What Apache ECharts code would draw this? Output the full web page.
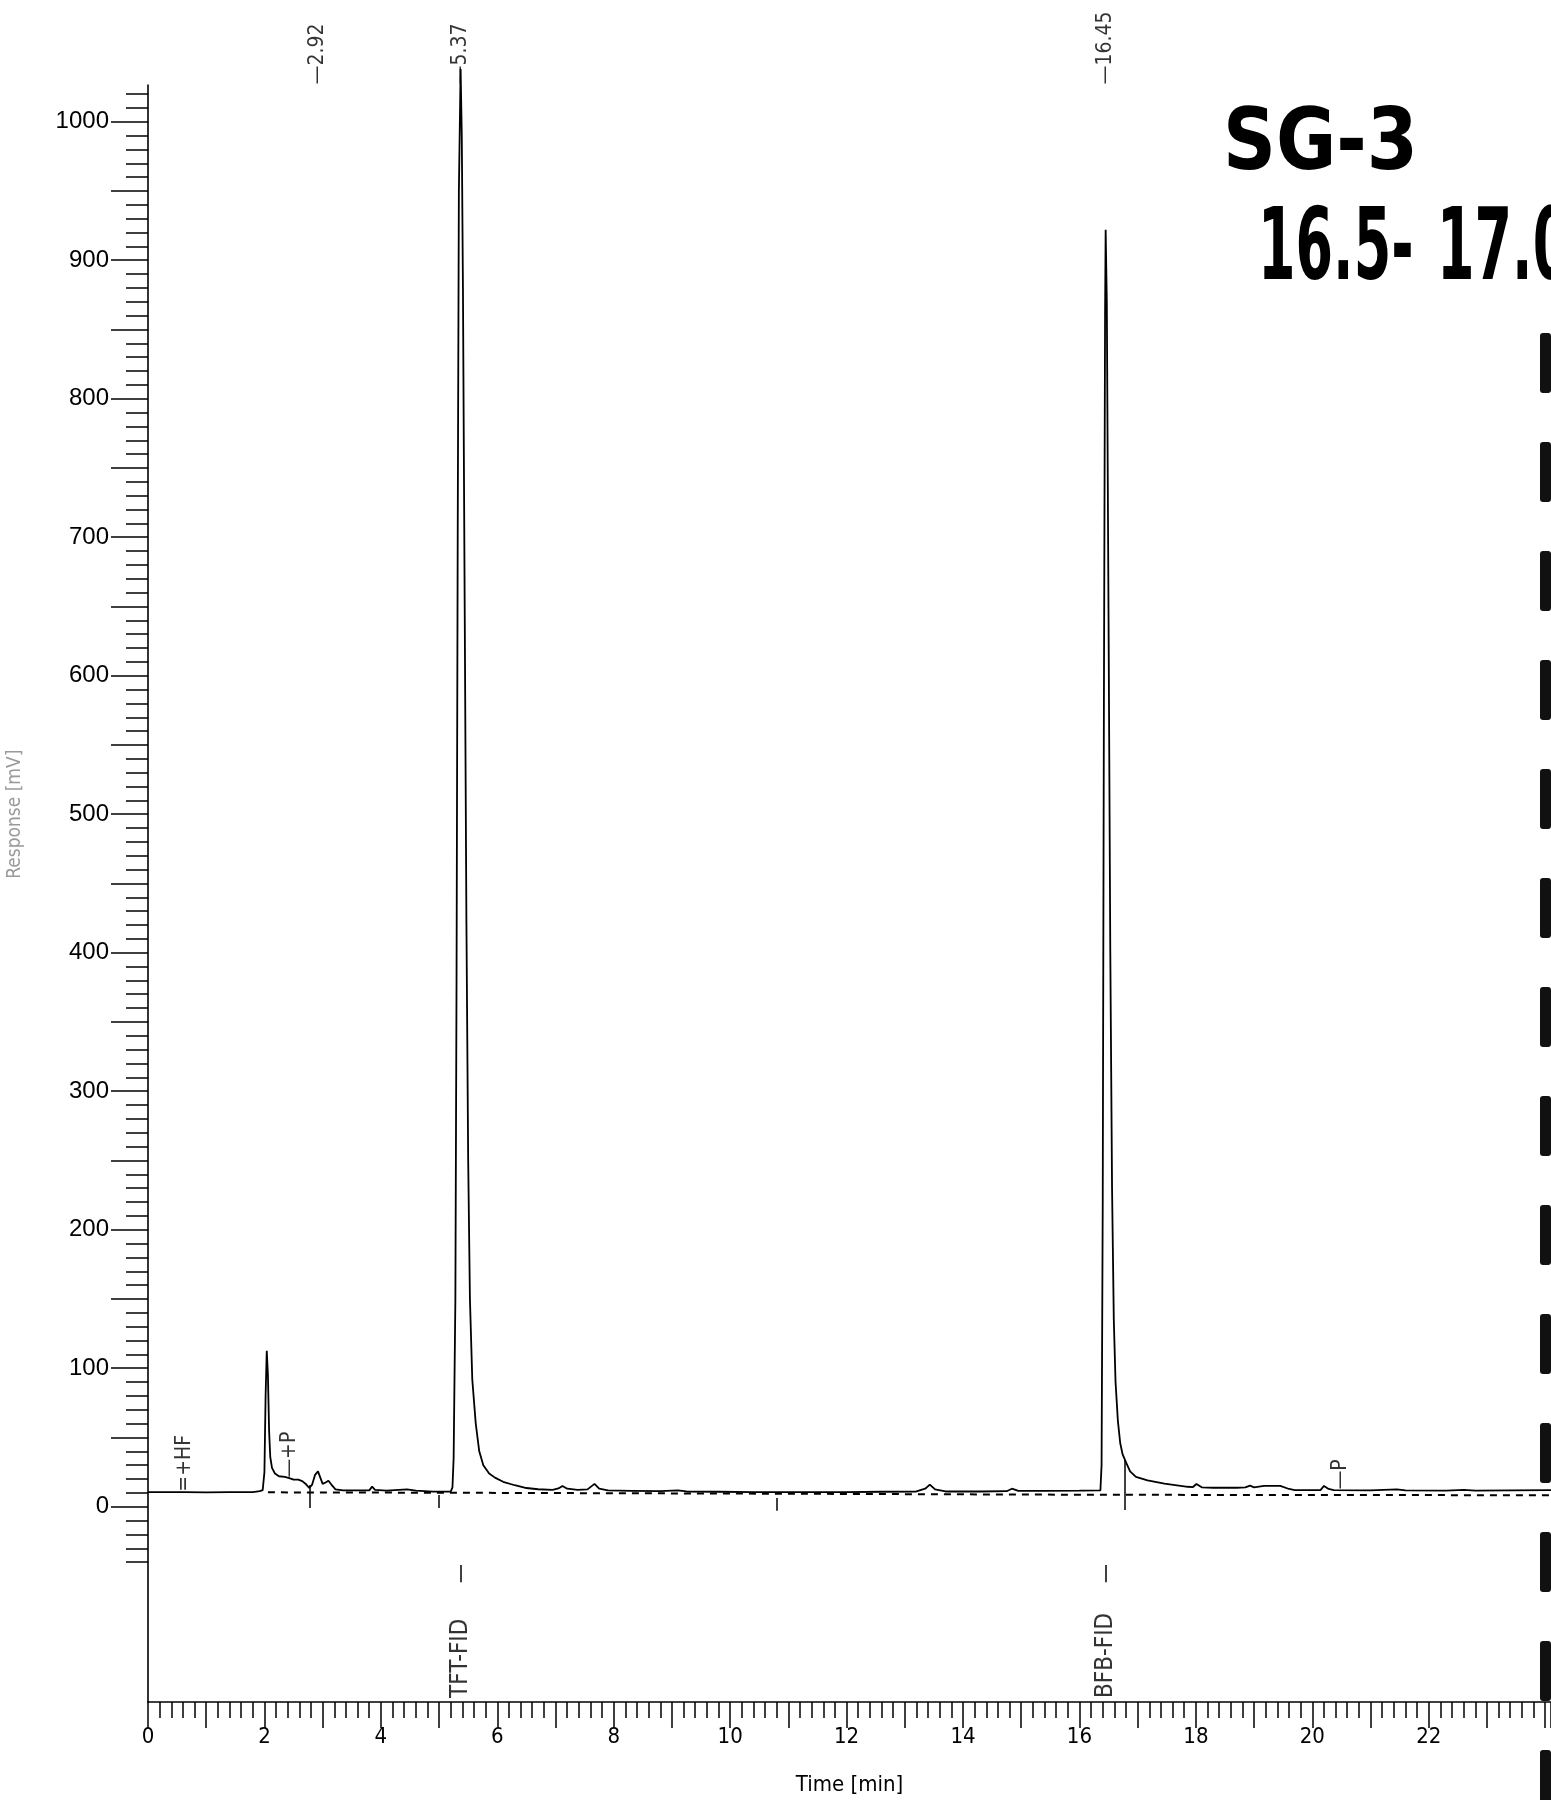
<!DOCTYPE html>
<html>
<head>
<meta charset="utf-8">
<title>SG-3 chromatogram</title>
<script src="https://cdn.jsdelivr.net/npm/echarts/dist/echarts.min.js"></script>
<style>
  html, body { margin: 0; padding: 0; background: #fff; }
  #chart { width: 1551px; height: 1800px; }
</style>
</head>
<body>
<div id="chart"></div>
<script>
// ---- detector trace (time in min, response in mV) ----
const signalTime = [
  0.00, 0.30, 0.62, 1.00, 1.40, 1.80, 1.92, 1.97, 2.00, 2.02, 2.04, 2.06, 2.08, 2.10, 2.13, 2.18,
  2.25, 2.35, 2.44, 2.50, 2.58, 2.65, 2.72, 2.77, 2.82, 2.87, 2.92, 2.96, 3.00, 3.05, 3.10, 3.15,
  3.22, 3.35, 3.60, 3.80, 3.85, 3.90, 4.10, 4.45, 4.60, 4.90, 5.20,
  5.23, 5.25, 5.28, 5.30, 5.32, 5.34, 5.37, 5.39, 5.41, 5.44, 5.47, 5.50, 5.53, 5.57, 5.63, 5.69,
  5.76, 5.86, 5.96, 6.10, 6.30, 6.50, 6.70, 6.95, 7.05, 7.12, 7.20, 7.38, 7.55, 7.67, 7.75, 7.90,
  8.30, 8.80, 9.10, 9.25, 9.80, 10.40, 10.80, 11.40, 12.00, 12.60, 13.20, 13.35, 13.43, 13.52, 13.70,
  14.30, 14.75, 14.84, 14.95, 15.40, 16.00, 16.36,
  16.38, 16.40, 16.42, 16.44, 16.45, 16.47, 16.50, 16.53, 16.56, 16.59, 16.62, 16.66, 16.70, 16.74, 16.80,
  16.87, 16.97, 17.17, 17.46, 17.86, 17.95, 18.01, 18.10, 18.30, 18.70, 18.85, 18.93, 19.00, 19.17,
  19.45, 19.60, 19.70, 20.14, 20.20, 20.28, 20.37, 21.00, 21.45, 21.60, 22.30, 22.60, 22.80, 23.40, 24.10
];
const signalResponse = [
  10.5, 10.6, 10.5, 10.4, 10.5, 10.6, 11.2, 12.0, 25, 80, 112.6, 95, 55, 36, 28, 24,
  22, 21.5, 20.5, 19.5, 19.6, 18.5, 16, 13.5, 16, 23, 25.5, 21, 16.5, 17.5, 18.8, 16,
  12.5, 11.8, 11.8, 11.8, 14.5, 12.2, 11.6, 12.5, 11.6, 10.9, 10.9,
  14, 35, 150, 380, 700, 950, 1038, 990, 880, 650, 420, 250, 150, 92, 60, 40,
  30, 24, 21, 18, 15.5, 13.5, 12.6, 12.2, 13.2, 15, 13, 12.1, 12.5, 16.5, 13, 11.8,
  11.5, 11.2, 11.8, 11.0, 10.8, 10.6, 10.5, 10.6, 10.5, 10.8, 11.0, 13, 16, 12.5, 11.0,
  11.0, 11.2, 13, 11.4, 11.5, 11.6, 11.8,
  30, 220, 580, 860, 922, 870, 640, 400, 230, 135, 90, 62, 46, 38, 32,
  25.5, 21.5, 19, 16.7, 14.4, 14.2, 16.4, 14.0, 13.7, 13.7, 13.9, 15.2, 14.0, 15,
  15, 12.8, 12, 12, 15, 12.8, 12, 11.8, 12.5, 11.8, 11.6, 12.2, 11.6, 11.8, 12.0
];

// ---- integration baseline ----
const baselineTime = [2.06, 2.77, 5.00, 10.80, 16.35, 24.10];
const baselineResponse = [10.4, 10.3, 10.1, 9.4, 8.6, 8.3];

// ---- peak retention times (labelled along the top) ----
const retentionTimes = [2.92, 5.37, 16.45];

// ---- identified compounds ----
const compoundTimes = [5.37, 16.45];
const compoundNames = ['TFT-FID', 'BFB-FID'];

// ---- integration event codes ----
const eventTimes = [0.62, 2.44, 20.48];
const eventResponse = [10.5, 20.5, 12.0];
const eventCodes = ['=+HF', '\u2014+P', '\u2014P'];

// ---- peak start / end markers (time, upper and lower response) ----
const markerTimes = [2.77, 5.00, 10.80, 16.77];
const markerTop = [15.6, 8.4, 6.3, 33.7];
const markerBottom = [-1.0, -1.0, -3.0, -2.4];

// ---- compound tick band (response range) ----
const compoundTickTop = -42;
const compoundTickBottom = -54.5;

// ---- axis tick labels ----
const xTickLabels = [0, 2, 4, 6, 8, 10, 12, 14, 16, 18, 20, 22];
const yTickLabels = [0, 100, 200, 300, 400, 500, 600, 700, 800, 900, 1000];

// ---- sample note written on the sheet ----
const sampleId = 'SG-3';
const depthFrom = '16.5-';
const depthTo = '17.0';

// ---- axis ranges ----
const X_MAX = 24.1;
const Y_MIN = -141.0;
const Y_MAX = 1026.5;
const COMPOUND_LABEL_Y = -138.5;

const INK = '#000';
const SANS = "'Liberation Sans', Arial, sans-serif";
const NARROW = "'Liberation Sans Narrow', 'DejaVu Sans Condensed', 'Liberation Sans', sans-serif";
const handFont = (size) => "bold " + size + "px 'DejaVu Sans Condensed', 'DejaVu Sans', sans-serif";
const tickStyle = { color: INK, width: 1.5 };

const verticalLabel = (fontSize) => ({
  show: true,
  position: 'top',
  distance: 0,
  rotate: 90,
  align: 'left',
  verticalAlign: 'middle',
  color: INK,
  fontSize: fontSize,
  fontFamily: NARROW,
  formatter: (p) => p.name
});

const hiddenPoint = {
  type: 'scatter',
  xAxisIndex: 0,
  yAxisIndex: 0,
  symbolSize: 1,
  itemStyle: { color: 'rgba(0,0,0,0)' },
  silent: true,
  clip: false,
  z: 5
};

// right page-edge marks (top y of each mark)
const edgeMarks = [];
for (let y = 333; y < 1800; y += 109) edgeMarks.push(y);

const option = {
  animation: false,
  backgroundColor: '#fff',
  textStyle: { fontFamily: SANS },
  grid: [
    { left: 148, right: 0, top: 85, bottom: 98, containLabel: false, outerBoundsMode: 'none' },
    { left: 148, right: 0, top: 121.7, bottom: 293.3, containLabel: false, outerBoundsMode: 'none' },
    { left: 148, right: 0, top: 94.0, bottom: 237.9, containLabel: false, outerBoundsMode: 'none' }
  ],
  xAxis: [
    {
      gridIndex: 0, type: 'value', min: 0, max: X_MAX, interval: 1,
      axisLine: { show: true, onZero: false, lineStyle: { color: INK, width: 1.6 } },
      axisTick: { show: true, length: 26, lineStyle: tickStyle },
      minorTick: { show: true, splitNumber: 5, length: 16, lineStyle: tickStyle },
      splitLine: { show: false },
      minorSplitLine: { show: false },
      axisLabel: {
        margin: 24, color: INK, fontSize: 22, fontFamily: NARROW,
        showMinLabel: true, showMaxLabel: true,
        formatter: (v) => (xTickLabels.indexOf(v) >= 0 ? String(v) : '')
      },
      name: 'Time [min]', nameLocation: 'middle', nameGap: 72,
      nameTextStyle: { color: INK, fontSize: 22, fontFamily: NARROW }
    },
    { gridIndex: 1, type: 'value', min: 0, max: 1, show: false },
    { gridIndex: 2, type: 'value', min: 0, max: 1, show: false }
  ],
  yAxis: [
    {
      gridIndex: 0, type: 'value', min: Y_MIN, max: Y_MAX,
      axisLine: { show: true, onZero: false, lineStyle: { color: INK, width: 1.6 } },
      axisTick: { show: false }, axisLabel: { show: false }, splitLine: { show: false }
    },
    {
      gridIndex: 1, type: 'value', min: 0, max: 1000, interval: 50,
      axisLine: { show: false },
      axisTick: { show: true, length: 37, lineStyle: tickStyle },
      splitLine: { show: false },
      axisLabel: {
        margin: 39, color: INK, fontSize: 24, fontFamily: SANS,
        showMinLabel: true, showMaxLabel: true,
        formatter: (v) => (yTickLabels.indexOf(v) >= 0 ? String(v) : '')
      },
      name: 'Response [mV]', nameLocation: 'middle', nameGap: 123, nameRotate: 90,
      nameTextStyle: { color: '#9a9a9a', fontSize: 19, fontFamily: NARROW }
    },
    {
      gridIndex: 2, type: 'value', min: -40, max: 1020, interval: 10,
      axisLine: { show: false },
      axisTick: { show: true, length: 22, lineStyle: tickStyle },
      axisLabel: { show: false }, splitLine: { show: false }
    }
  ],
  series: [
    {
      name: 'FID signal',
      type: 'line',
      xAxisIndex: 0, yAxisIndex: 0,
      data: signalTime.map((t, i) => [t, signalResponse[i]]),
      symbol: 'none', showSymbol: false, clip: false,
      lineStyle: { color: INK, width: 1.8 },
      z: 3,
      markLine: {
        silent: true,
        symbol: ['none', 'none'],
        label: { show: false },
        lineStyle: { color: INK, width: 1.5, type: 'solid' },
        data: markerTimes.map((t, i) => [
          { coord: [t, markerTop[i]] },
          { coord: [t, markerBottom[i]] }
        ]).concat(compoundTimes.map((t) => [
          { coord: [t, compoundTickTop] },
          { coord: [t, compoundTickBottom] }
        ]))
      }
    },
    {
      name: 'baseline',
      type: 'line',
      xAxisIndex: 0, yAxisIndex: 0,
      data: baselineTime.map((t, i) => [t, baselineResponse[i]]),
      symbol: 'none', showSymbol: false, clip: false,
      lineStyle: { color: INK, width: 2, type: [7, 6] },
      z: 2
    },
    Object.assign({}, hiddenPoint, {
      name: 'retention times',
      data: retentionTimes.map((t) => ({ value: [t, Y_MAX], name: '\u2014' + t.toFixed(2) })),
      label: verticalLabel(21)
    }),
    Object.assign({}, hiddenPoint, {
      name: 'events',
      data: eventTimes.map((t, i) => ({ value: [t, eventResponse[i]], name: eventCodes[i] })),
      label: verticalLabel(21)
    }),
    Object.assign({}, hiddenPoint, {
      name: 'compounds',
      data: compoundTimes.map((t, i) => ({ value: [t, COMPOUND_LABEL_Y], name: compoundNames[i] })),
      label: verticalLabel(24)
    })
  ],
  graphic: {
    elements: [
      {
        type: 'text', x: 1223, y: 104, scaleX: 0.95, silent: true,
        style: { text: sampleId, fill: INK, font: handFont(86), align: 'left', verticalAlign: 'top' }
      },
      {
        type: 'text', x: 1258, y: 203, scaleX: 0.6, silent: true,
        style: { text: depthFrom, fill: INK, font: handFont(100), align: 'left', verticalAlign: 'top' }
      },
      {
        type: 'text', x: 1437, y: 203, scaleX: 0.6, silent: true,
        style: { text: depthTo, fill: INK, font: handFont(100), align: 'left', verticalAlign: 'top' }
      },
      {
        type: 'group', silent: true,
        children: edgeMarks.map((y) => ({
          type: 'rect',
          shape: { x: 1540, y: y, width: 11, height: 60, r: 3 },
          style: { fill: '#111' }
        }))
      }
    ]
  }
};

const chart = echarts.init(document.getElementById('chart'), null, { renderer: 'canvas', width: 1551, height: 1800 });
chart.setOption(option);
</script>
</body>
</html>
